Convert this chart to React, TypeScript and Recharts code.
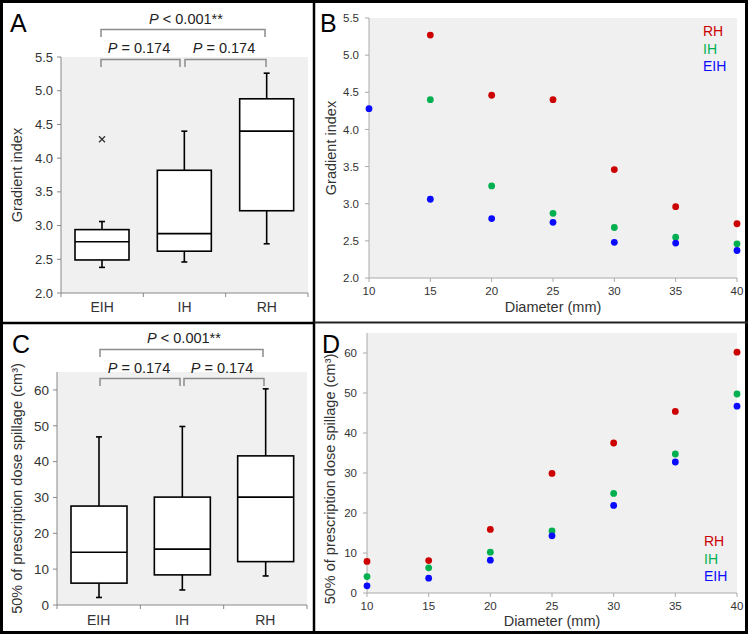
import { ComposedChart, ScatterChart, Scatter, Bar, XAxis, YAxis, CartesianGrid, Legend } from 'recharts';

const FONT = '"Liberation Sans", Arial, Helvetica, sans-serif';
const RED = '#cc0000';
const GREEN = '#00b050';
const BLUE = '#0a0aff';
const PLOT_BG = '#f0f0f0';

const groups = ['EIH', 'IH', 'RH'];
const legendOrder = ['RH', 'IH', 'EIH'];
const diameters = [10, 15, 20, 25, 30, 35, 40];

// panel A - gradient index box stats (EIH, IH, RH)
const giMin = [2.38, 2.46, 2.73];
const giQ1 = [2.49, 2.62, 3.22];
const giMedian = [2.76, 2.88, 4.4];
const giQ3 = [2.94, 3.82, 4.88];
const giMax = [3.06, 4.4, 5.26];
const giOutliers = [[4.28], [], []];

// panel C - 50% dose spillage box stats
const spMin = [2.1, 4.2, 8.1];
const spQ1 = [6.1, 8.4, 12.1];
const spMedian = [14.7, 15.6, 30.1];
const spQ3 = [27.6, 30.1, 41.6];
const spMax = [46.9, 49.8, 60.3];
const spOutliers = [[], [], []];

// panel B - gradient index by diameter
const giRH = [null, 5.27, 4.46, 4.4, 3.46, 2.96, 2.73];
const giIH = [null, 4.4, 3.24, 2.87, 2.68, 2.55, 2.46];
const giEIH = [4.28, 3.06, 2.8, 2.75, 2.48, 2.47, 2.37];

// panel D - spillage by diameter
const spRH = [7.9, 8.1, 15.9, 29.9, 37.5, 45.4, 60.2];
const spIH = [4.1, 6.3, 10.2, 15.5, 24.9, 34.75, 49.75];
const spEIH = [1.8, 3.7, 8.2, 14.3, 21.9, 32.75, 46.7];

const giTicks = [2, 2.5, 3, 3.5, 4, 4.5, 5, 5.5];
const spTicks = [0, 10, 20, 30, 40, 50, 60];
const diameterTicks = [10, 15, 20, 25, 30, 35, 40];

const makeBoxes = (mn: number[], q1: number[], md: number[], q3: number[], mx: number[], out: number[][]) =>
  groups.map((name, i) => ({ name, min: mn[i], q1: q1[i], median: md[i], q3: q3[i], max: mx[i], outliers: out[i] }));

const giBoxes = makeBoxes(giMin, giQ1, giMedian, giQ3, giMax, giOutliers);
const spBoxes = makeBoxes(spMin, spQ1, spMedian, spQ3, spMax, spOutliers);

const toPoints = (vals: (number | null)[]) =>
  diameters.map((d, i) => ({ d, v: vals[i] })).filter((p) => p.v !== null);

const BoxShape = (props: any) => {
  const { x, y, width, height, payload } = props;
  const k = height / (payload.q3 - payload.q1);
  const yOf = (v: number) => y + (payload.q3 - v) * k;
  const cx = x + width / 2;
  const yMax = yOf(payload.max);
  const yMin = yOf(payload.min);
  const yMed = yOf(payload.median);
  const s = { stroke: '#000', strokeWidth: 1.6 };
  return (
    <g>
      <line x1={cx} y1={yMax} x2={cx} y2={y} {...s} />
      <line x1={cx - 3} y1={yMax} x2={cx + 3} y2={yMax} {...s} />
      <line x1={cx} y1={y + height} x2={cx} y2={yMin} {...s} />
      <line x1={cx - 3} y1={yMin} x2={cx + 3} y2={yMin} {...s} />
      <rect x={x} y={y} width={width} height={height} fill="#fff" {...s} />
      <line x1={x} y1={yMed} x2={x + width} y2={yMed} {...s} />
      {payload.outliers.map((o: number, i: number) => {
        const oy = yOf(o);
        return (
          <g key={i} stroke="#333" strokeWidth={1.2}>
            <line x1={cx - 3} y1={oy - 3} x2={cx + 3} y2={oy + 3} />
            <line x1={cx - 3} y1={oy + 3} x2={cx + 3} y2={oy - 3} />
          </g>
        );
      })}
    </g>
  );
};

const CatTick = (props: any) => {
  const { x, y, payload, index, band, count, tm, size } = props;
  const axisY = y - tm;
  const edges = [x - band / 2];
  if (index === count - 1) edges.push(x + band / 2);
  return (
    <g>
      {edges.map((ex, i) => (
        <line key={i} x1={ex} y1={axisY} x2={ex} y2={axisY + 4} stroke="#888" />
      ))}
      <text x={x} y={y} dy="0.71em" textAnchor="middle" fontSize={size} fill="#333">
        {payload.value}
      </text>
    </g>
  );
};

const YTitle = (props: any) => {
  const { viewBox, title, cx, shift = 0, size } = props;
  const cy = (viewBox ? viewBox.y + viewBox.height / 2 : 150) + shift;
  return (
    <text x={cx} y={cy} transform={`rotate(-90 ${cx} ${cy})`} textAnchor="middle" dominantBaseline="central" fontSize={size} fill="#333">
      {title}
    </text>
  );
};

const LegendText = ({ payload }: any) => {
  const items = [...(payload || [])].sort(
    (a: any, b: any) => legendOrder.indexOf(a.value) - legendOrder.indexOf(b.value)
  );
  return (
    <div style={{ fontSize: 14, lineHeight: '17.5px', fontFamily: FONT }}>
      {items.map((p: any) => (
        <div key={p.value} style={{ color: p.color }}>{p.value}</div>
      ))}
    </div>
  );
};

const dot = (color: string) => (p: any) => <circle cx={p.cx} cy={p.cy} r={3.4} fill={color} />;

const BoxPanel = ({ data, domain, ticks, fmt, width, height, margin, yWidth, xHeight, barSize, yTickSize, xtm, title, titleX }: any) => {
  const band = (width - margin.left - margin.right - yWidth) / groups.length;
  return (
    <ComposedChart width={width} height={height} data={data} margin={margin}>
      <CartesianGrid fill={PLOT_BG} horizontal={false} vertical={false} />
      <XAxis
        dataKey="name"
        height={xHeight}
        axisLine={{ stroke: '#888' }}
        tickLine={false}
        tickSize={0}
        tickMargin={xtm}
        tick={<CatTick band={band} count={groups.length} tm={xtm} size={14} />}
      />
      <YAxis
        type="number"
        domain={domain}
        ticks={ticks}
        width={yWidth}
        tickFormatter={fmt}
        tickSize={4}
        tickMargin={4}
        axisLine={{ stroke: '#888' }}
        tickLine={{ stroke: '#888' }}
        tick={{ fontSize: yTickSize, fill: '#333' }}
        label={<YTitle title={title} cx={titleX} size={14.5} />}
      />
      <Bar dataKey={(d: any) => [d.q1, d.q3]} barSize={barSize} shape={(p: any) => <BoxShape {...p} />} isAnimationActive={false} />
    </ComposedChart>
  );
};

const ScatterPanel = ({ rh, ih, eih, domain, ticks, fmt, width, height, margin, yWidth, xHeight, labelOffset, title, titleX, titleShift, legendPos }: any) => (
  <ScatterChart width={width} height={height} margin={margin}>
    <CartesianGrid fill={PLOT_BG} horizontal={false} vertical={false} />
    <XAxis
      type="number"
      dataKey="d"
      domain={[10, 40]}
      ticks={diameterTicks}
      height={xHeight}
      tickSize={4}
      tickMargin={5}
      axisLine={{ stroke: '#aaa' }}
      tickLine={{ stroke: '#aaa' }}
      tick={{ fontSize: 11.5, fill: '#333' }}
      label={{ value: 'Diameter (mm)', position: 'insideBottom', offset: labelOffset, fontSize: 14.5, fill: '#333' }}
    />
    <YAxis
      type="number"
      dataKey="v"
      domain={domain}
      ticks={ticks}
      width={yWidth}
      tickFormatter={fmt}
      tickSize={4}
      tickMargin={6}
      axisLine={{ stroke: '#aaa' }}
      tickLine={{ stroke: '#aaa' }}
      tick={{ fontSize: 11.5, fill: '#333' }}
      label={<YTitle title={title} cx={titleX} shift={titleShift} size={14.5} />}
    />
    <Legend layout="vertical" align="center" verticalAlign="middle" content={<LegendText />} wrapperStyle={{ left: legendPos[0], top: legendPos[1], width: 50, height: 55 }} />
    <Scatter name="RH" data={toPoints(rh)} fill={RED} shape={dot(RED)} isAnimationActive={false} />
    <Scatter name="IH" data={toPoints(ih)} fill={GREEN} shape={dot(GREEN)} isAnimationActive={false} />
    <Scatter name="EIH" data={toPoints(eih)} fill={BLUE} shape={dot(BLUE)} isAnimationActive={false} />
  </ScatterChart>
);

const PText = ({ x, y, rest }: any) => (
  <text x={x} y={y} textAnchor="middle" fontSize={14.5} fill="#222">
    <tspan fontStyle="italic">P</tspan>
    {rest}
  </text>
);

const fmt1 = (v: number) => v.toFixed(1);
const fmt0 = (v: number) => String(v);
const spTitle = '50% of prescription dose spillage (cm³)';

export default function App() {
  const br = { stroke: '#8c8c8c', strokeWidth: 1.5, fill: 'none' };
  return (
    <div style={{ position: 'absolute', left: 0, top: 0, width: 750, height: 635, background: '#fff', fontFamily: FONT }}>
      <div style={{ position: 'absolute', left: 0, top: 0 }}>
        <BoxPanel data={giBoxes} domain={[2, 5.5]} ticks={giTicks} fmt={fmt1} width={313} height={322}
          margin={{ top: 57, right: 5, bottom: 0, left: 0 }} yWidth={61} xHeight={29} barSize={54} yTickSize={13} xtm={9}
          title="Gradient index" titleX={17} />
      </div>
      <div style={{ position: 'absolute', left: 0, top: 322 }}>
        <BoxPanel data={spBoxes} domain={[0, 65]} ticks={spTicks} fmt={fmt0} width={313} height={313}
          margin={{ top: 50, right: 6, bottom: 0, left: 0 }} yWidth={57} xHeight={30} barSize={56} yTickSize={13.5} xtm={10}
          title={spTitle} titleX={17} />
      </div>
      <div style={{ position: 'absolute', left: 313, top: 0 }}>
        <ScatterPanel rh={giRH} ih={giIH} eih={giEIH} domain={[2, 5.5]} ticks={giTicks} fmt={fmt1} width={435} height={322}
          margin={{ top: 18, right: 11, bottom: 0, left: 0 }} yWidth={56} xHeight={44} labelOffset={10}
          title="Gradient index" titleX={18} titleShift={0} legendPos={[390, 23]} />
      </div>
      <div style={{ position: 'absolute', left: 313, top: 322 }}>
        <ScatterPanel rh={spRH} ih={spIH} eih={spEIH} domain={[0, 65]} ticks={spTicks} fmt={fmt0} width={435} height={313}
          margin={{ top: 11, right: 11, bottom: 0, left: 0 }} yWidth={54} xHeight={42} labelOffset={9}
          title={spTitle} titleX={17} titleShift={16} legendPos={[391, 211]} />
      </div>
      <svg width={750} height={635} style={{ position: 'absolute', left: 0, top: 0, pointerEvents: 'none' }}>
        <rect x={1.5} y={1.5} width={745} height={631} fill="none" stroke="#000" strokeWidth={3} />
        <line x1={314} y1={0} x2={314} y2={634} stroke="#000" strokeWidth={2.5} />
        <line x1={0} y1={323} x2={314} y2={323} stroke="#000" strokeWidth={2.5} />
        <line x1={314} y1={322.5} x2={748} y2={322.5} stroke="#222" strokeWidth={1.8} />
        <g fontSize={25} fill="#000">
          <text x={10} y={32}>A</text>
          <text x={320} y={32}>B</text>
          <text x={12} y={353}>C</text>
          <text x={322} y={353}>D</text>
        </g>
        <path d="M101 37 V29.5 H265 V37" {...br} />
        <path d="M101 67 V59.5 H180 V67" {...br} />
        <path d="M185 67 V59.5 H266 V67" {...br} />
        <PText x={186} y={24} rest=" < 0.001**" />
        <PText x={139} y={52.5} rest=" = 0.174" />
        <PText x={224} y={52.5} rest=" = 0.174" />
        <path d="M100 357 V349.5 H263 V357" {...br} />
        <path d="M100 386 V378.5 H180 V386" {...br} />
        <path d="M184 386 V378.5 H264 V386" {...br} />
        <PText x={184} y={343} rest=" < 0.001**" />
        <PText x={139} y={372.5} rest=" = 0.174" />
        <PText x={222} y={372.5} rest=" = 0.174" />
      </svg>
    </div>
  );
}
